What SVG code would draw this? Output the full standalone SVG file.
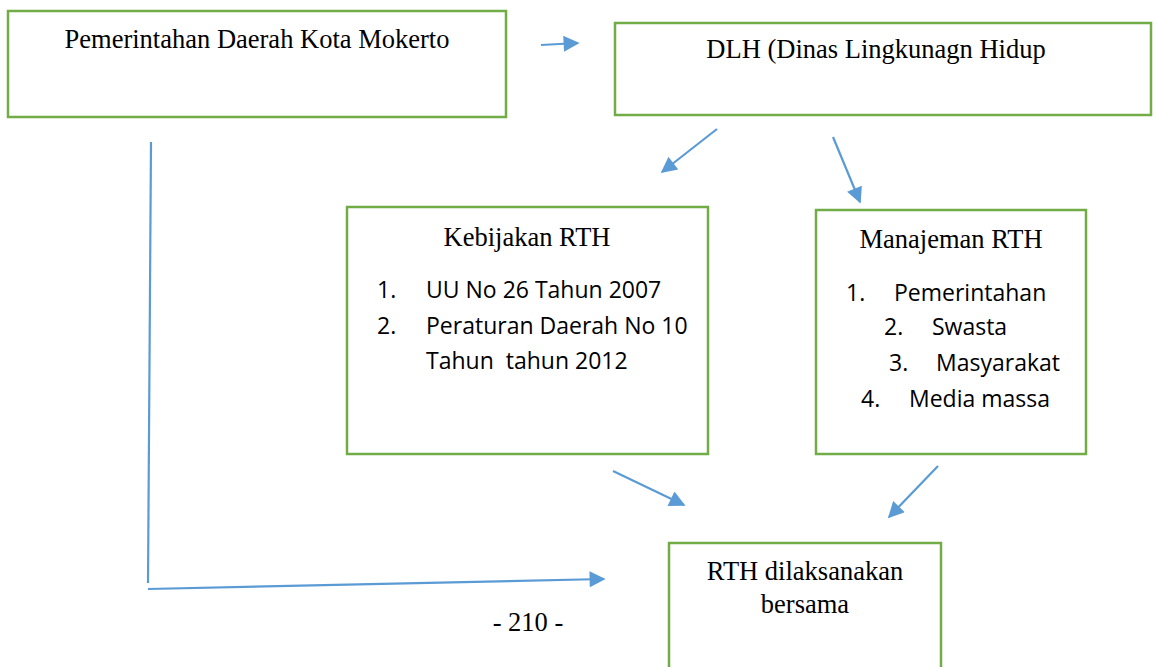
<svg xmlns="http://www.w3.org/2000/svg" width="1157" height="667" viewBox="0 0 1157 667">
<style>
.box{fill:#fff;stroke:#70AD47;stroke-width:2.5}
.ser{font-family:"Liberation Serif","Times New Roman",serif;font-size:26.5px;fill:#000}
.san{font-family:"Open Sans","Liberation Sans",sans-serif;font-size:23px;fill:#000}
.con{stroke:#5B9BD5;stroke-width:2.2;fill:none}
</style>
<defs>
<marker id="ah" viewBox="0 0 10 10" refX="9" refY="5" markerWidth="8.5" markerHeight="8" markerUnits="userSpaceOnUse" orient="auto">
<path d="M0,0 L10,5 L0,10 z" fill="#5B9BD5"/>
</marker>
<marker id="ahb" viewBox="0 0 10 10" refX="9" refY="5" markerWidth="18" markerHeight="16" markerUnits="userSpaceOnUse" orient="auto">
<path d="M0,0 L10,5 L0,10 z" fill="#5B9BD5"/>
</marker>
</defs>
<rect width="1157" height="667" fill="#fff"/>
<g id="n1"><rect class="box" x="8" y="11" width="498" height="106"/>
<text class="ser" x="257" y="48" text-anchor="middle">Pemerintahan Daerah Kota Mokerto</text></g>
<g id="n2"><rect class="box" x="615" y="23" width="536" height="92"/>
<text class="ser" x="876" y="58" text-anchor="middle">DLH (Dinas Lingkunagn Hidup</text></g>
<g id="n3"><rect class="box" x="347" y="207" width="361" height="247"/>
<text class="ser" x="527" y="246" text-anchor="middle">Kebijakan RTH</text>
<text class="san" x="377" y="298">1.</text><text class="san" x="426" y="298">UU No 26 Tahun 2007</text>
<text class="san" x="377" y="334">2.</text><text class="san" x="426" y="334">Peraturan Daerah No 10</text>
<text class="san" x="426" y="369" xml:space="preserve">Tahun  tahun 2012</text></g>
<g id="n4"><rect class="box" x="816" y="210" width="270" height="244"/>
<text class="ser" x="951" y="248" text-anchor="middle">Manajeman RTH</text>
<text class="san" x="846" y="301">1.</text><text class="san" x="894" y="301">Pemerintahan</text>
<text class="san" x="884" y="335">2.</text><text class="san" x="932" y="335">Swasta</text>
<text class="san" x="889" y="371">3.</text><text class="san" x="936" y="371">Masyarakat</text>
<text class="san" x="861" y="407">4.</text><text class="san" x="909" y="407">Media massa</text></g>
<g id="n5"><rect class="box" x="669" y="543" width="272" height="140"/>
<text class="ser" x="805" y="580" text-anchor="middle">RTH dilaksanakan</text>
<text class="ser" x="805" y="613" text-anchor="middle">bersama</text></g>
<text class="ser" x="528" y="631" text-anchor="middle">- 210 -</text>
<g id="connectors">
<line class="con" x1="541" y1="45" x2="578" y2="43" marker-end="url(#ahb)"/>
<line class="con" x1="717" y1="129" x2="662" y2="172" marker-end="url(#ahb)"/>
<line class="con" x1="833" y1="137" x2="860" y2="202" marker-end="url(#ahb)"/>
<line class="con" x1="613" y1="471" x2="684" y2="505" marker-end="url(#ahb)"/>
<line class="con" x1="938" y1="466" x2="889" y2="517" marker-end="url(#ahb)"/>
<line class="con" x1="151" y1="142" x2="148" y2="583" stroke-width="1.6"/>
<line class="con" x1="148" y1="589" x2="604" y2="579" stroke-width="2.6" marker-end="url(#ahb)"/>
</g>
</svg>
